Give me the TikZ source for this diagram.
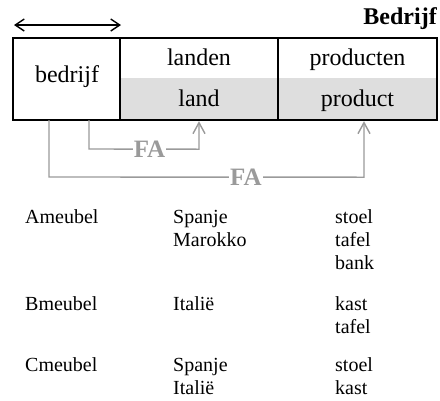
\documentclass[tikz,border=0pt]{standalone}
\usepackage{fontspec}
\setmainfont{Liberation Serif}
\usetikzlibrary{arrows.meta,calc}
\definecolor{cellgray}{HTML}{DEDEDE}
\definecolor{fagray}{HTML}{9A9A9A}
\tikzset{
  cell/.style={draw=black,line width=1.6pt,inner sep=0pt},
  boxtext/.style={font=\fontsize{24}{28}\selectfont,anchor=base,inner sep=0pt},
  rowtext/.style={font=\fontsize{20}{24}\selectfont,anchor=base west,inner sep=0pt},
  fa/.style={draw=fagray,line width=1.4pt,-{Straight Barb[length=11pt,width=12pt,line width=1.4pt]}},
  falabel/.style={font=\bfseries\fontsize{25}{28}\selectfont,text=fagray,fill=white,inner sep=1pt},
  keyspan/.style={line width=1.4pt,{Straight Barb[length=9pt,width=12pt]}-{Straight Barb[length=9pt,width=12pt]}}
}
\begin{document}
\begin{tikzpicture}[x=1pt,y=-1pt]
\useasboundingbox (0,0) rectangle (440,400);
% shaded lower row of the two multi-valued columns
\fill[cellgray] (120,78) rectangle (437,120);
% cells of the relation
\node[cell,minimum width=107pt,minimum height=82pt] (c1) at (66.5,79) {};
\node[cell,minimum width=158pt,minimum height=82pt] (c2) at (199,79) {};
\node[cell,minimum width=159pt,minimum height=82pt] (c3) at (357.5,79) {};
% lower sub-cells (no border) as anchors for the arrows
\node[minimum width=158pt,minimum height=42pt,inner sep=0pt] (land) at (199,99) {};
\node[minimum width=146pt,minimum height=42pt,inner sep=0pt] (product) at (364,99) {};
% texts in the cells
\node[boxtext] (tb) at (67,82) {bedrijf};
\node[boxtext] (tl) at (199,65) {landen};
\node[boxtext] (tp) at (357.5,65) {producten};
\node[boxtext] (tland) at (199,106) {land};
\node[boxtext] (tprod) at (357.5,106) {product};
% title
\node[font=\bfseries\fontsize{24}{28}\selectfont,anchor=base east,inner sep=0pt] (title) at (437,24) {Bedrijf};
% key span
\coordinate (kl) at (14,25);
\coordinate (kr) at (121,25);
\draw[keyspan] (kl) -- (kr);
% functional dependency arrows
\coordinate (s1) at (89,120);
\coordinate (s2) at (49,120);
\draw[fa,shorten >=1pt] (s1) -- ($(s1)+(0,29)$) -- node[falabel,pos=0.55] (fa1) {FA} ($(land.south)+(0,29)$) -- (land.south);
\draw[fa,shorten >=1pt] (s2) -- ($(s2)+(0,57)$) -- node[falabel,pos=0.625] (fa2) {FA} ($(product.south)+(0,57)$) -- (product.south);
% example rows
\node[rowtext] (a1) at (25,223) {Ameubel};
\node[rowtext] (a2) at (173,223) {Spanje};
\node[rowtext] (a3) at (173,246) {Marokko};
\node[rowtext] (a4) at (335,223) {stoel};
\node[rowtext] (a5) at (335,246) {tafel};
\node[rowtext] (a6) at (335,269) {bank};
\node[rowtext] (b1) at (25,310) {Bmeubel};
\node[rowtext] (b2) at (173,310) {Italië};
\node[rowtext] (b3) at (335,310) {kast};
\node[rowtext] (b4) at (335,333) {tafel};
\node[rowtext] (d1) at (25,371) {Cmeubel};
\node[rowtext] (d2) at (173,371) {Spanje};
\node[rowtext] (d3) at (173,394) {Italië};
\node[rowtext] (d4) at (335,371) {stoel};
\node[rowtext] (d5) at (335,394) {kast};
\end{tikzpicture}
\end{document}
